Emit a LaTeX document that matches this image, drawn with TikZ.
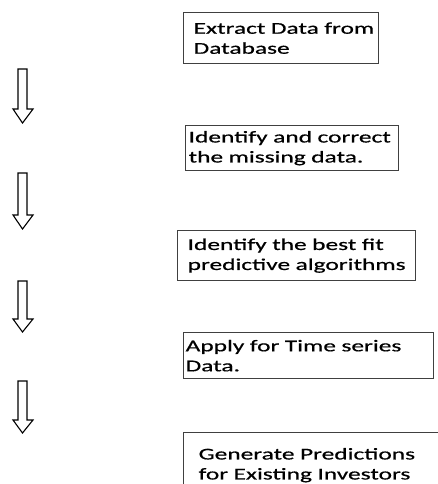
\documentclass[tikz,border=0pt]{standalone}
\usepackage{fontspec}
\newfontfamily\boxfont{Carlito}[FakeStretch=1.54,FakeBold=0.6]
\usepackage{tikz}

\begin{document}
\begin{tikzpicture}[x=1pt,y=-1pt,
    stepbox/.style={draw=black!75,line width=1.3pt,anchor=north west,align=left,
      inner xsep=0pt,inner ysep=0pt,font=\boxfont\fontsize{16.5}{20}\selectfont},
    blockarrow/.style={draw=black,line width=1.1pt,line join=miter}]
    \useasboundingbox (0,0) rectangle (438,484);

    %steps
    \node[stepbox,text width=195pt,minimum height=51pt] (extract) at (183,12)
      {\hspace*{10pt}Extract Data from\\\hspace*{10pt}Database};
    \node[stepbox,text width=213pt,minimum height=45pt] (correct) at (185,125)
      {\hspace*{3pt}Identify and correct\\\hspace*{3pt}the missing data.};
    \node[stepbox,text width=238pt,minimum height=50pt] (bestfit) at (177,230)
      {\hspace*{10pt}Identify the best fit\\\hspace*{10pt}predictive algorithms};
    \node[stepbox,text width=250pt,minimum height=46pt] (apply) at (183,332)
      {\hspace*{2pt}Apply for Time series\\\hspace*{2pt}Data.};
    \node[stepbox,text width=270pt,minimum height=65pt] (predict) at (183,432)
      {\hspace*{15pt}Generate Predictions\\\hspace*{15pt}for Existing Investors};

    %arrows
    \foreach \ya/\yb/\yc in {69/109/123,173/215/229,281/319/332,381/420/433}
      \draw[blockarrow] (18,\ya) -- (27,\ya) -- (27,\yb) -- (33,\yb)
        -- (22.5,\yc) -- (13,\yb) -- (18,\yb) -- cycle;
\end{tikzpicture}
\end{document}
